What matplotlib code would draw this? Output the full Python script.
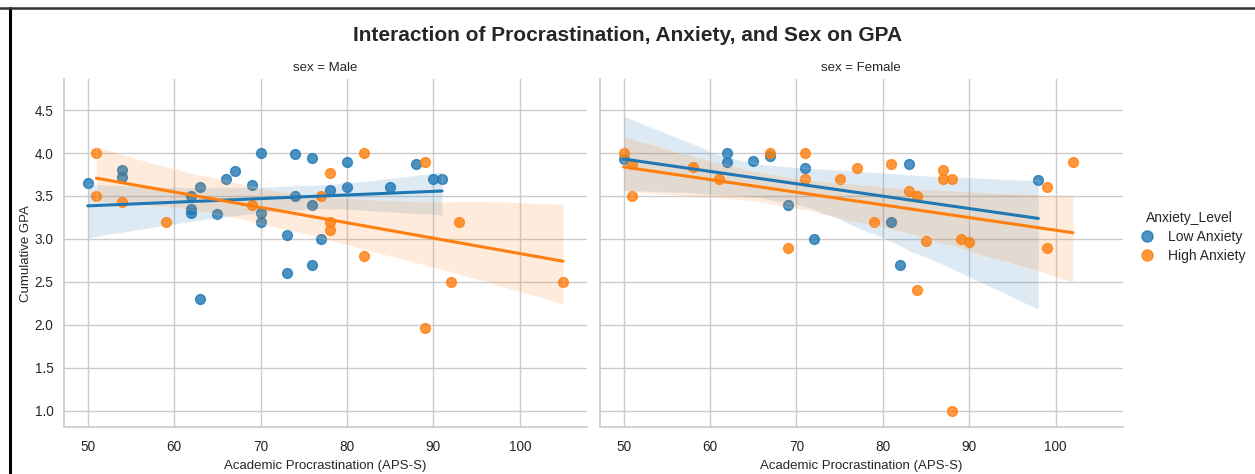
import matplotlib
matplotlib.use("Agg")
import matplotlib.pyplot as plt
from matplotlib.lines import Line2D
import seaborn as sns
import pandas as pd

# APS-S scores and cumulative GPA, split by sex and anxiety group
male_low_aps = [50, 54, 54, 62, 62, 62, 63, 63, 65, 66, 67, 69, 70, 70, 70,
                73, 73, 74, 74, 76, 76, 76, 77, 78, 80, 80, 85, 88, 90, 91]
male_low_gpa = [3.65, 3.80, 3.72, 3.50, 3.35, 3.30, 3.60, 2.30, 3.29, 3.70,
                3.79, 3.63, 4.00, 3.30, 3.20, 3.05, 2.60, 3.99, 3.50, 3.94,
                3.40, 2.70, 3.00, 3.57, 3.90, 3.60, 3.60, 3.87, 3.70, 3.70]

male_high_aps = [51, 51, 54, 59, 69, 77, 78, 78, 78, 82, 82, 89, 89, 92, 93, 105]
male_high_gpa = [4.00, 3.50, 3.43, 3.20, 3.40, 3.50, 3.77, 3.20, 3.10, 4.00,
                 2.80, 3.90, 1.96, 2.50, 3.20, 2.50]

female_low_aps = [50, 62, 62, 65, 67, 69, 71, 72, 81, 82, 83, 98]
female_low_gpa = [3.93, 4.00, 3.90, 3.91, 3.97, 3.40, 3.82, 3.00, 3.20, 2.70,
                  3.87, 3.69]

female_high_aps = [50, 51, 51, 58, 61, 67, 69, 71, 71, 75, 77, 79, 81, 83, 84,
                   84, 85, 87, 87, 88, 88, 89, 90, 99, 99, 102]
female_high_gpa = [4.00, 3.87, 3.50, 3.84, 3.70, 4.00, 2.90, 4.00, 3.70, 3.70,
                   3.82, 3.20, 3.87, 3.56, 3.50, 2.40, 2.98, 3.80, 3.70, 3.70,
                   1.00, 3.00, 2.96, 3.60, 2.90, 3.90]

levels = ["Low Anxiety", "High Anxiety"]


def make_frame(aps, gpa, sex, level):
    return pd.DataFrame({"APS": aps, "GPA": gpa, "sex": sex, "Anxiety_Level": level})


df = pd.concat([
    make_frame(male_low_aps, male_low_gpa, "Male", "Low Anxiety"),
    make_frame(male_high_aps, male_high_gpa, "Male", "High Anxiety"),
    make_frame(female_low_aps, female_low_gpa, "Female", "Low Anxiety"),
    make_frame(female_high_aps, female_high_gpa, "Female", "High Anxiety"),
], ignore_index=True)

sns.set_theme(style="whitegrid")
plt.rcParams["font.family"] = ["Liberation Sans", "DejaVu Sans"]

g = sns.lmplot(data=df, x="APS", y="GPA", hue="Anxiety_Level", col="sex",
               col_order=["Male", "Female"], hue_order=levels,
               palette="tab10", height=4, aspect=1.2, seed=3, legend=False,
               scatter_kws={"s": 50}, line_kws={"lw": 2.2})

fig = g.figure
fig.set_size_inches(12.55, 4.74)
fig.subplots_adjust(left=0.051, right=0.8945, bottom=0.099, top=0.833, wspace=0.025)

for ax in g.axes.flat:
    ax.set_xlim(47.25, 107.75)
    ax.set_ylim(0.81, 4.86)
    ax.tick_params(labelsize=9.8)
    ax.tick_params(axis="y", pad=1.5)
    ax.title.set_fontsize(9.5)
    ax.xaxis.label.set_fontsize(9.5)
    ax.yaxis.label.set_fontsize(9.5)

g.set_axis_labels("Academic Procrastination (APS-S)", "Cumulative GPA")
g.axes.flat[0].yaxis.labelpad = 2

# legend built from the scatter handles of the first facet
colors = sns.color_palette("tab10", 2)
handles = [Line2D([], [], marker="o", ls="", color=c, alpha=0.8, markersize=8)
           for c in colors]
fig.legend(handles, levels, title="Anxiety_Level", loc="center left",
           bbox_to_anchor=(0.893, 0.5), frameon=False, fontsize=10,
           title_fontsize=10, handletextpad=0.5, labelspacing=0.35)

fig.suptitle("Interaction of Procrastination, Anxiety, and Sex on GPA",
             fontsize=15, fontweight="bold", y=0.945)

# frame lines along the top and left edges
fig.add_artist(Line2D([0.0076, 0.0076], [0, 0.983], transform=fig.transFigure,
                      color="black", lw=2.2))
fig.add_artist(Line2D([0.0, 1.0], [0.983, 0.983], transform=fig.transFigure,
                      color="#333333", lw=1.8))

fig.savefig("out.png", dpi=100)
